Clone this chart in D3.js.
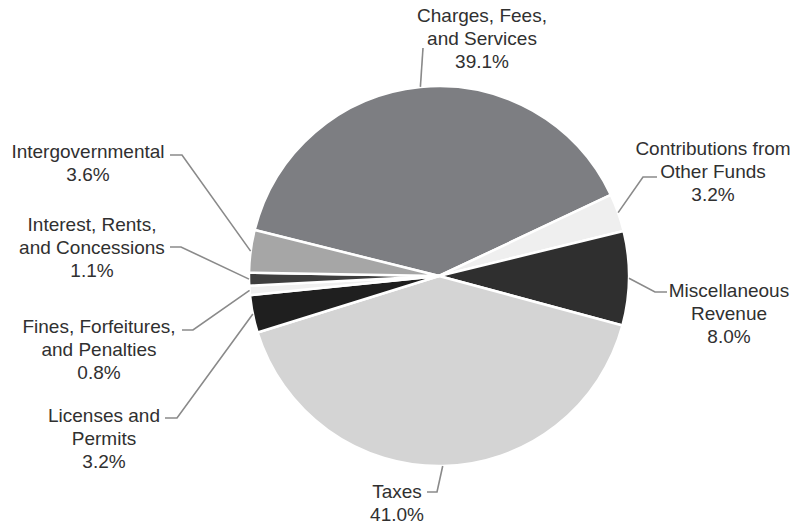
<!DOCTYPE html>
<html>
<head>
<meta charset="utf-8">
<script src="https://cdn.jsdelivr.net/npm/d3@7"></script>
<style>
  html, body { margin: 0; padding: 0; background: #fff; }
  svg { display: block; }
  text { font-family: "Liberation Sans", Arial, sans-serif; font-size: 19px; fill: #303030; }
</style>
</head>
<body>
<svg id="chart" width="796" height="525"></svg>
<script>
// ---- data ----
const categories = [
  "Charges, Fees, and Services",
  "Contributions from Other Funds",
  "Miscellaneous Revenue",
  "Taxes",
  "Licenses and Permits",
  "Fines, Forfeitures, and Penalties",
  "Interest, Rents, and Concessions",
  "Intergovernmental"
];
const values = [39.1, 3.2, 8.0, 41.0, 3.2, 0.8, 1.1, 3.6];
const labelLines = [
  ["Charges, Fees,", "and Services"],
  ["Contributions from", "Other Funds"],
  ["Miscellaneous", "Revenue"],
  ["Taxes"],
  ["Licenses and", "Permits"],
  ["Fines, Forfeitures,", "and Penalties"],
  ["Interest, Rents,", "and Concessions"],
  ["Intergovernmental"]
];

// ---- layout / style (kept separate from data) ----
const colors = ["#7d7e82", "#efefef", "#2f2f2f", "#d4d4d4", "#1f1f1f", "#f0f0f0", "#3e3e3e", "#a6a6a6"];
const labelPos = [   // text center x, first baseline y
  [482, 22], [713, 155], [729, 297], [397, 498],
  [104, 422], [99, 333], [92, 231], [88, 158]
];
const leaderPts = [  // [elbow, end] points of leader lines
  [[423, 48], [423, 48]],
  [[643, 177], [657, 177]],
  [[655, 292], [667, 292]],
  [[437, 492], [427, 492]],
  [[177, 418], [165, 418]],
  [[193, 330], [182, 330]],
  [[181, 155 + 92], [170, 247]],
  [[182, 155], [170, 155]]
];
const cx = 439, cy = 276, R = 190;
const lineH = 23;

const svg = d3.select("#chart");
const g = svg.append("g").attr("transform", `translate(${cx},${cy})`);

const pie = d3.pie().value(d => d).sort(null)
  .startAngle(-76 * Math.PI / 180)
  .endAngle(284 * Math.PI / 180);
const arcs = pie(values);
const arc = d3.arc().innerRadius(0).outerRadius(R);

g.selectAll("path.slice").data(arcs).enter().append("path")
  .attr("class", "slice")
  .attr("d", arc)
  .attr("fill", (d, i) => colors[i])
  .attr("stroke", "#fff")
  .attr("stroke-width", 2.5)
  .attr("stroke-linejoin", "round");

// leader lines
const line = d3.line();
arcs.forEach((a, i) => {
  const mid = (a.startAngle + a.endAngle) / 2;
  const p0 = [cx + R * Math.sin(mid), cy - R * Math.cos(mid)];
  const [elbow, end] = leaderPts[i];
  svg.append("path")
    .attr("d", line([p0, elbow, end]))
    .attr("fill", "none")
    .attr("stroke", "#8a8a8a")
    .attr("stroke-width", 1.6);
});

// labels
arcs.forEach((a, i) => {
  const [x, y] = labelPos[i];
  const t = svg.append("text").attr("text-anchor", "middle");
  const lines = labelLines[i].concat([d3.format(".1f")(values[i]) + "%"]);
  lines.forEach((s, k) => {
    t.append("tspan").attr("x", x).attr("y", y + k * lineH).text(s);
  });
});
</script>
</body>
</html>
